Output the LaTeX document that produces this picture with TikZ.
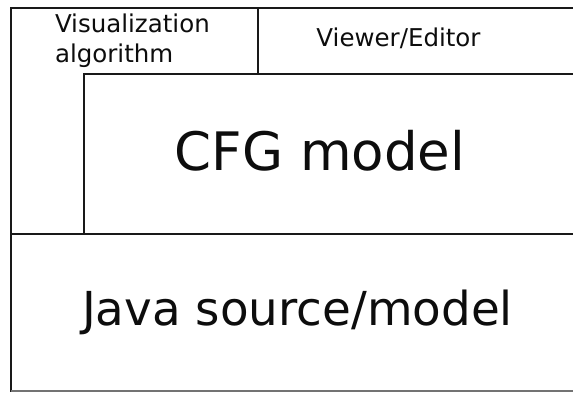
\documentclass[tikz,border=0pt]{standalone}
\usepackage{fontspec}
\setmainfont{DejaVu Sans}
\begin{document}
\begin{tikzpicture}[x=1pt,y=-1pt,
  frame/.style={line width=2.4pt, draw=black!90, line cap=rect},
  label/.style={inner sep=0pt, outer sep=0pt, text=black!95}]
\useasboundingbox[fill=white] (0,0) rectangle (573,392);
% frame coordinates
\coordinate (tl) at (11,8);
\coordinate (tr) at (573,8);
\coordinate (ml) at (11,234);
\coordinate (mr) at (573,234);
\coordinate (bl) at (11,391);
\coordinate (br) at (573,391);
\coordinate (vt) at (258,8);
\coordinate (vb) at (258,74);
\coordinate (ctl) at (84,74);
\coordinate (ctr) at (573,74);
\coordinate (cbl) at (84,234);
% boxes
\draw[frame] (tr) -- (tl) -- (bl);
\draw[line width=1.6pt, draw=black!55] (bl) -- (br);
\draw[frame] (ml) -- (mr);
\draw[frame] (ctr) -- (ctl) -- (cbl);
\draw[frame] (vt) -- (vb);
% texts
\node[label, anchor=north west, align=left, font=\fontsize{24.5}{30}\selectfont]
  (vis) at (55,13.4) {Visualization\\algorithm};
\node[label, anchor=base, font=\fontsize{24.5}{28}\selectfont]
  (view) at (398.5,46.7) {Viewer/Editor};
\node[label, anchor=base, font=\fontsize{53}{60}\selectfont]
  (cfg) at (320,170) {CFG model};
\node[label, anchor=base, font=\fontsize{46.8}{56}\selectfont]
  (java) at (297.5,325) {Java source/model};
\end{tikzpicture}
\end{document}
